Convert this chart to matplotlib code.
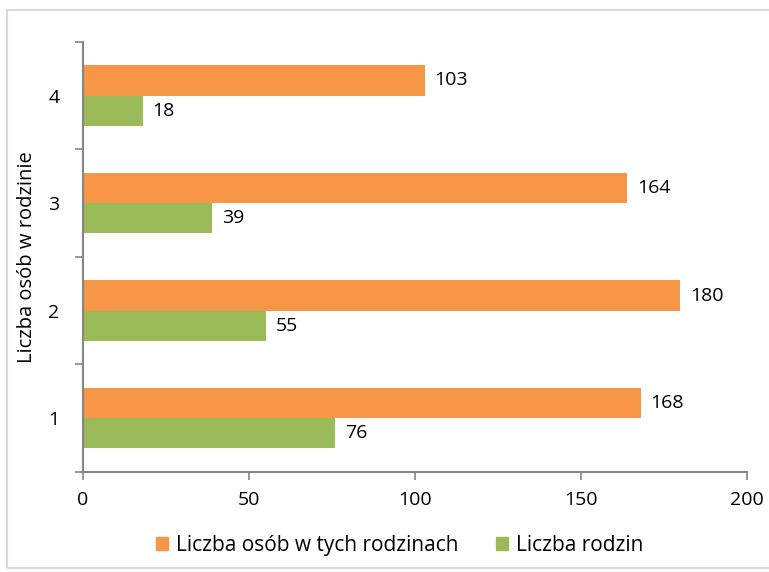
import numpy as np
import matplotlib.pyplot as plt
from matplotlib.patches import Patch, Rectangle

# data
categories = ['1', '2', '3', '4']
osoby = [168, 180, 164, 103]     # Liczba osób w tych rodzinach
rodziny = [76, 55, 39, 18]       # Liczba rodzin

orange = '#F79646'
green = '#9BBB59'
axis_col = '#868686'
fs = 14

plt.rcParams['font.family'] = ['Open Sans', 'DejaVu Sans']

fig = plt.figure(figsize=(7.69, 5.72), dpi=100)
ax = fig.add_axes([0.108, 0.175, 0.863, 0.752])

# light chart frame
fig.patches.append(Rectangle((7 / 769, 4 / 572), 770 / 769, 558 / 572,
                             transform=fig.transFigure, fill=False,
                             edgecolor='#d9d9d9', linewidth=1.5))

y = np.arange(len(categories))
h = 0.28
b1 = ax.barh(y + h / 2, osoby, height=h, color=orange)
b2 = ax.barh(y - h / 2, rodziny, height=h, color=green)

for bars, vals in ((b1, osoby), (b2, rodziny)):
    for bar, v in zip(bars, vals):
        ax.annotate(str(v), (v, bar.get_y() + bar.get_height() / 2),
                    xytext=(7, 0), textcoords='offset points',
                    va='center', ha='left', fontsize=fs, color='black')

ax.set_xlim(0, 200)
ax.set_ylim(-0.5, len(categories) - 0.5)
ax.set_xticks([0, 50, 100, 150, 200])
ax.set_yticks(y)
ax.set_yticklabels(categories)
ax.set_yticks(np.arange(-0.5, len(categories)), minor=True)

ax.tick_params(axis='y', which='major', length=0, pad=17, labelsize=fs)
ax.tick_params(axis='y', which='minor', length=6, color=axis_col, width=1.2)
ax.tick_params(axis='x', length=6, color=axis_col, width=1.2, pad=8, labelsize=fs)

for s in ('top', 'right'):
    ax.spines[s].set_visible(False)
for s in ('left', 'bottom'):
    ax.spines[s].set_color(axis_col)
    ax.spines[s].set_linewidth(1.5)

ax.set_ylabel('Liczba osób w rodzinie', fontsize=14.5, labelpad=8)

handles = [Patch(color=orange, label='Liczba osób w tych rodzinach'),
           Patch(color=green, label='Liczba rodzin')]
fig.legend(handles=handles, loc='center', bbox_to_anchor=(0.52, 0.047),
           ncol=2, frameon=False, fontsize=15, handlelength=0.55,
           handleheight=0.55, handletextpad=0.4, columnspacing=1.8)

fig.savefig('out.png', dpi=100)
